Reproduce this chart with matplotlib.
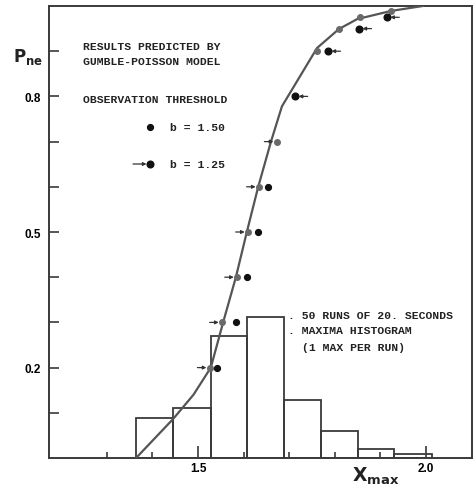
import matplotlib
matplotlib.use("Agg")
import matplotlib.pyplot as plt

# ---------------- data ----------------
# model curve (Gumbel-Poisson prediction)
curve_x = [1.364, 1.445, 1.490, 1.528, 1.555, 1.583, 1.607, 1.632, 1.660, 1.684, 1.761, 1.809, 1.849, 1.923, 1.993]
curve_p = [0.0, 0.086, 0.140, 0.200, 0.300, 0.400, 0.500, 0.600, 0.700, 0.778, 0.907, 0.949, 0.971, 0.989, 1.000]

# histogram of maxima (50 runs)
hist_edges = [1.364, 1.445, 1.5285, 1.607, 1.689, 1.770, 1.851, 1.930, 2.013]
hist_heights = [0.089, 0.110, 0.271, 0.312, 0.129, 0.059, 0.020, 0.008]

# b = 1.25 points, arrow from the left (lower part)
b125_low_x = [1.526, 1.553, 1.586, 1.610, 1.634, 1.673]
b125_low_p = [0.20, 0.30, 0.40, 0.50, 0.60, 0.70]
# b = 1.25 points, arrow from the right (upper part)
b125_up_x = [1.713, 1.785, 1.853, 1.914]
b125_up_p = [0.80, 0.90, 0.95, 0.975]
# b = 1.50 points, off the curve (lower part)
b150_low_x = [1.542, 1.583, 1.607, 1.632, 1.654]
b150_low_p = [0.20, 0.30, 0.40, 0.50, 0.60]
# b = 1.50 points, on the curve (upper part)
b150_up_x = [1.761, 1.809, 1.855, 1.923]
b150_up_p = [0.90, 0.95, 0.975, 0.99]

x_major = [1.5, 2.0]
x_major_labels = ["1.5", "2.0"]
x_minor = [1.3, 1.4, 1.6, 1.7, 1.8, 1.9]
y_ticks = [0.1, 0.2, 0.3, 0.4, 0.5, 0.6, 0.7, 0.8, 0.9]
y_labels = ["", "0.2", "", "", "0.5", "", "", "0.8", ""]

# ---------------- figure ----------------
W, H = 476, 489
fig = plt.figure(figsize=(W / 100, H / 100), dpi=100)
L, R, T, B = 49, 472, 7, 459
ax = fig.add_axes([L / W, 1 - B / H, (R - L) / W, (B - T) / H])
ax.set_xlim(1.173, 2.101)
ax.set_ylim(0, 1.0)

ink = "#3a3a3a"
for s in ax.spines.values():
    s.set_color(ink)
    s.set_linewidth(1.4)

# histogram
widths = [hist_edges[i + 1] - hist_edges[i] for i in range(len(hist_heights))]
ax.bar(hist_edges[:-1], hist_heights, width=widths, align="edge",
       facecolor="none", edgecolor=ink, linewidth=1.3, zorder=2)

# curve
ax.plot(curve_x, curve_p, color="#555555", lw=1.6, zorder=3)

# points
ax.plot(b125_low_x, b125_low_p, "o", color="#6a6a6a", ms=4, zorder=4)
ax.plot(b150_up_x, b150_up_p, "o", color="#6a6a6a", ms=4, zorder=4)
ax.plot(b150_low_x, b150_low_p, "o", color="#111111", ms=4.2, zorder=5)
ax.plot(b125_up_x, b125_up_p, "o", color="#111111", ms=4.8, zorder=5)

arrow_kw = dict(arrowstyle="-|>", lw=0.9, color="#333333", mutation_scale=5,
                shrinkA=0, shrinkB=2.5)
for x, p in zip(b125_low_x, b125_low_p):
    ax.annotate("", xy=(x, p), xytext=(-9, 0), textcoords="offset points",
                arrowprops=arrow_kw, zorder=6)
for x, p in zip(b125_up_x, b125_up_p):
    ax.annotate("", xy=(x, p), xytext=(9, 0), textcoords="offset points",
                arrowprops=arrow_kw, zorder=6)

# ticks
ax.set_xticks(x_major)
ax.set_xticklabels(x_major_labels)
ax.set_xticks(x_minor, minor=True)
ax.set_yticks(y_ticks)
ax.set_yticklabels(y_labels)
ax.tick_params(axis="x", which="major", direction="in", length=9, width=1.2,
               color=ink, pad=3, labelsize=8.5)
ax.tick_params(axis="x", which="minor", direction="in", length=4, width=1.2, color=ink)
ax.tick_params(axis="y", direction="in", length=7, width=1.2, color=ink, pad=6,
               labelsize=8.5)
for lab in ax.get_xticklabels() + ax.get_yticklabels():
    lab.set_fontweight("bold")
    lab.set_family("Liberation Sans")

def axc(px, py):
    return ((px - L) / (R - L), (B - py) / (B - T))

mono = dict(family="Liberation Mono", fontweight="bold", fontsize=8.2,
            color="#222222", transform=ax.transAxes, va="center", ha="left")
ax.text(*axc(83, 47), "RESULTS PREDICTED BY", **mono)
ax.text(*axc(83, 62), "GUMBLE-POISSON MODEL", **mono)
ax.text(*axc(83, 100), "OBSERVATION THRESHOLD", **mono)
ax.text(*axc(170, 128), "b = 1.50", **mono)
ax.text(*axc(170, 165), "b = 1.25", **mono)
ax.plot(*axc(150, 128), "o", color="#111111", ms=4.2, transform=ax.transAxes)
ax.plot(*axc(150, 165), "o", color="#111111", ms=4.8, transform=ax.transAxes)
ax.annotate("", xy=axc(150, 165), xytext=axc(133, 165), xycoords="axes fraction",
            textcoords="axes fraction", arrowprops=arrow_kw)

ax.text(*axc(288, 316), ". 50 RUNS OF 20. SECONDS", **mono)
ax.text(*axc(288, 331), ". MAXIMA HISTOGRAM", **mono)
ax.text(*axc(302, 348), "(1 MAX PER RUN)", **mono)

# axis labels
fig.text(13 / W, 1 - 57 / H, r"$\mathbf{P_{ne}}$", fontsize=12, va="center",
         ha="left", color="#222222")
fig.text(352 / W, 1 - 476 / H, r"$\mathbf{X_{max}}$", fontsize=13.5, va="center",
         ha="left", color="#222222")

fig.savefig("out.png", dpi=100)
